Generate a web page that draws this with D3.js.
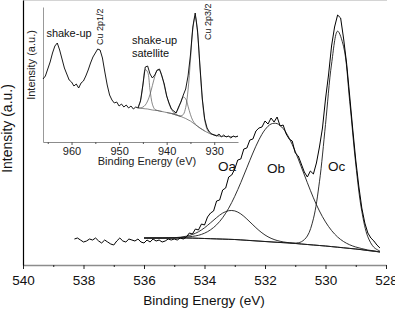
<!DOCTYPE html>
<html>
<head>
<meta charset="utf-8">
<script src="https://cdn.jsdelivr.net/npm/d3@7"></script>
<style>
  html, body { margin: 0; padding: 0; background: #fff; }
  svg { display: block; }
</style>
</head>
<body>
<div id="chart"></div>
<script>
const FONT = "'Liberation Sans', Arial, sans-serif";

// ---- main panel: O 1s ----
// measured spectrum, every 0.1 eV from 538.3 down to 528.2
const mainRawStart = 538.3;
const mainRawStep = 0.1;
const mainRaw = [
	26, 27, 25, 23, 24, 26, 25, 27, 24, 22, 25, 23, 21, 20, 24, 27, 24, 23, 26, 25,
	24, 26, 23, 22, 25, 23, 26, 24, 25, 23, 24, 26, 25, 26, 25, 27, 26,
	28, 32, 31, 36, 35, 41, 40, 48, 52, 54, 64, 65, 75, 77, 88, 90, 96, 105, 106, 116,
	117, 125, 126, 134, 137, 138, 144, 141, 147, 143, 148, 139, 140, 131, 126, 124,
	112, 109, 101, 93, 88, 94, 91, 102, 118, 137, 166, 190, 219, 238, 250, 247, 226,
	201, 169, 136, 105, 79, 57, 42, 32, 27, 24, 20, 17,
];

// fitted curves (baseline included), every 0.2 eV from 536.0 down to 528.2
const mainFitStart = 536.0;
const mainFitStep = 0.2;
const mainBaseline = [
	27, 27, 27, 27, 27, 27, 27, 27, 26.9, 26.7, 26.5, 26.3, 26.1, 25.9, 25.7, 25.5,
	25.1, 24.7, 24.3, 23.9, 23.5, 23.1, 22.7, 22.3, 21.9, 21.5, 21.0, 20.5, 20.0,
	19.5, 19.0, 18.4, 17.8, 17.2, 16.6, 16.0, 15.3, 14.5, 13.8, 13.0,
];
const peakOa = [
	27.0, 27.0, 27.0, 27.0, 27.1, 27.3, 27.8,
	28.8, 30.5, 33.2, 37.2, 42.2, 47.4, 51.9, 54.3, 54.1, 51.1, 46.0, 40.2, 34.6,
	30.0, 26.7, 24.5, 23.1, 22.2, 21.6, 21.0, 20.5, 20.0, 19.5, 19.0, 18.4, 17.8,
	17.2, 16.6, 16.0, 15.3, 14.5, 13.8, 13.0,
];
const peakOb = [
	27.0, 27.0, 27.0, 27.0, 27.1, 27.2, 27.4,
	27.9, 28.6, 29.7, 31.8, 35.2, 40.2, 47.3, 56.8, 68.7, 82.4, 97.2, 112.0, 125.2,
	135.3, 141.0, 141.4, 136.4, 126.8, 113.5, 98.1, 82.3, 67.2, 54.0, 43.1, 34.5,
	28.0, 23.4, 20.2, 18.0, 16.4, 15.0, 14.1, 13.1,
];
const peakOc = [
	27, 27, 27, 27, 27, 27, 27,
	27, 26.9, 26.7, 26.5, 26.3, 26.1, 25.9, 25.7, 25.5, 25.1, 24.7, 24.3, 23.9,
	23.5, 23.1, 22.7, 22.4, 22.2, 21.9, 23.2, 29.0, 46.2, 83.2, 140.5, 201.0, 233.8,
	218.2, 163.8, 100.9, 53.8, 28.2, 17.7, 13.9,
];

const mainTicks = [540, 538, 536, 534, 532, 530, 528];
const mainMinorTicks = [539, 537, 535, 533, 531, 529];
const peakNames = ["Oa", "Ob", "Oc"];
const peakLabelEv = [533.55, 531.93, 529.92];
const peakLabelY = [94, 92, 94];

// ---- inset: Cu 2p ----
// measured spectrum, every 0.5 eV from 966 down to 925
const insetRawStart = 966;
const insetStep = 0.5;
const insetRaw = [
	63, 66, 73, 80, 89, 96, 99, 92, 83, 74,
	68, 62, 60, 56, 58, 54, 59, 61, 66, 72,
	79, 85, 89, 93, 92, 84, 70, 57, 47, 42,
	39, 40, 36, 38, 35, 37, 34, 36, 33, 35,
	34, 41, 57, 75, 76, 68, 64, 67, 72, 73,
	66, 58, 46, 39, 33, 31, 29, 35, 40, 47,
	53, 66, 87, 115, 129, 111, 76, 43, 23, 14,
	10, 8, 7, 6, 8, 5, 7, 5, 6, 4,
	6, 5, 6,
];

// fitted curves (baseline included), every 0.5 eV, each from its own start
const insetBaselineStart = 946;
const insetBaseline = [
	34, 33.7, 33.5, 33.2, 33, 32.5, 32, 31.7, 31.5, 31, 30.5, 30, 29.5, 29, 28.5,
	27.7, 27, 26.2, 25.5, 24.5, 23.5, 22.2, 21, 19.2, 17.5, 15.7, 14, 12.5, 11,
	9.7, 8.5, 7.7, 7, 6.5, 6, 5.7, 5.5, 5.5, 5.5, 5.5, 5.5, 5.5, 5.5,
];
const satOneStart = 946;
const satOne = [35.5, 41.5, 56.8, 72.4, 69.9, 52.1, 37.8, 32.7, 31.6, 31.0, 30.5];
const satTwoStart = 946;
const satTwo = [
	34.1, 34.2, 34.9, 36.9, 41.0, 47.6, 56.4, 65.4, 71.4, 71.5, 65.8, 56.3, 46.3,
	38.2, 32.8, 29.4, 27.6, 26.4, 25.5,
];
const shoulderStart = 940;
const shoulder = [
	29.5, 29, 28.6, 28.4, 29.8, 33.9, 40.5, 44.9, 43.2, 35.7, 27.5, 21.4, 18.0,
	15.8, 14, 12.5, 11,
];
const mainLineStart = 939;
const mainLine = [
	28.5, 27.7, 27.0, 26.3, 26.1, 27.5, 34.4, 52.0, 81.9, 112.8, 125.5, 109.3, 74.9,
	42.3, 21.9, 12.7, 9.1, 7.8, 7.0, 6.5, 6.0,
];

const insetTicks = [960, 950, 940, 930];
const insetMinorTicks = [965, 955, 945, 935];

// ---------------------------------------------------------
const width = 395;
const height = 309;

const svg = d3
	.select("#chart")
	.append("svg")
	.attr("width", width)
	.attr("height", height)
	.attr("font-family", FONT);

svg.append("rect").attr("width", width).attr("height", height).attr("fill", "#fff");

const toPoints = (start, step, values) => values.map((v, i) => [start - i * step, v]);

// main scales
const x = d3.scaleLinear().domain([540, 528]).range([23, 386]);
const y = d3.scaleLinear().domain([0, 265]).range([265, 0]);

const mainLineGen = d3.line().x((d) => x(d[0])).y((d) => y(d[1]));
const mainSmooth = d3.line().x((d) => x(d[0])).y((d) => y(d[1])).curve(d3.curveCatmullRom);

// faint top frame line
svg
	.append("line")
	.attr("x1", 23)
	.attr("x2", 387)
	.attr("y1", 0.5)
	.attr("y2", 0.5)
	.attr("stroke", "#d4d4d4");

// bottom axis
const gx = svg.append("g").attr("transform", `translate(0,${y(0)})`);
gx.call(
	d3.axisBottom(x).tickValues(mainTicks).tickSize(4).tickSizeOuter(0).tickPadding(6).tickFormat(d3.format("d"))
);
gx.attr("font-family", FONT).attr("font-size", 13.5);
gx.select(".domain").attr("stroke", "#8c8c8c").attr("stroke-width", 1.6);
gx.selectAll(".tick line").attr("stroke", "#222");
gx.selectAll(".tick text").attr("fill", "#111");

const gxMinor = svg.append("g").attr("transform", `translate(0,${y(0)})`);
gxMinor.call(d3.axisBottom(x).tickValues(mainMinorTicks).tickSize(2).tickFormat(""));
gxMinor.select(".domain").remove();
gxMinor.selectAll(".tick line").attr("stroke", "#222");

// left axis (line only)
const gy = svg.append("g").attr("transform", `translate(${x(540)},0)`);
gy.call(d3.axisLeft(y).tickValues([]).tickSizeOuter(0));
gy.select(".domain").attr("stroke", "#000").attr("stroke-width", 1.2);

// axis titles
svg
	.append("text")
	.attr("x", 204)
	.attr("y", 305)
	.attr("text-anchor", "middle")
	.attr("font-size", 13.6)
	.attr("fill", "#111")
	.text("Binding Energy (eV)");

svg
	.append("text")
	.attr("transform", "translate(12,128.5) rotate(-90)")
	.attr("text-anchor", "middle")
	.attr("font-size", 14)
	.attr("fill", "#111")
	.text("Intensity (a.u.)");

// fitted curves
const fitLayer = svg.append("g").attr("fill", "none").attr("stroke", "#1a1a1a").attr("stroke-width", 0.9);
[mainBaseline, peakOa, peakOb, peakOc].forEach((series) => {
	fitLayer.append("path").attr("d", mainSmooth(toPoints(mainFitStart, mainFitStep, series)));
});

// measured spectrum
svg
	.append("path")
	.attr("d", mainLineGen(toPoints(mainRawStart, mainRawStep, mainRaw)))
	.attr("fill", "none")
	.attr("stroke", "#000")
	.attr("stroke-width", 1);

// peak names
peakNames.forEach((name, i) => {
	svg
		.append("text")
		.attr("x", x(peakLabelEv[i]))
		.attr("y", y(peakLabelY[i]))
		.attr("font-size", 13.5)
		.attr("fill", "#111")
		.text(name);
});

// ---- inset ----
const xi = d3.scaleLinear().domain([966, 925]).range([43, 238]);
const yi = d3.scaleLinear().domain([0, 135]).range([142, 7]);

const insetLine = d3.line().x((d) => xi(d[0])).y((d) => yi(d[1]));
const insetSmooth = d3.line().x((d) => xi(d[0])).y((d) => yi(d[1])).curve(d3.curveCatmullRom);

const gxi = svg.append("g").attr("transform", `translate(0,${yi(0)})`);
gxi.call(
	d3.axisBottom(xi).tickValues(insetTicks).tickSize(3).tickSizeOuter(0).tickPadding(2).tickFormat(d3.format("d"))
);
gxi.attr("font-family", FONT).attr("font-size", 11);
gxi.select(".domain").attr("stroke", "#8c8c8c");
gxi.selectAll(".tick line").attr("stroke", "#555");
gxi.selectAll(".tick text").attr("fill", "#222");

const gxiMinor = svg.append("g").attr("transform", `translate(0,${yi(0)})`);
gxiMinor.call(d3.axisBottom(xi).tickValues(insetMinorTicks).tickSize(2).tickFormat(""));
gxiMinor.select(".domain").remove();
gxiMinor.selectAll(".tick line").attr("stroke", "#555");

const gyi = svg.append("g").attr("transform", `translate(${xi(966)},0)`);
gyi.call(d3.axisLeft(yi).tickValues([]).tickSizeOuter(0));
gyi.select(".domain").attr("stroke", "#999");

svg
	.append("text")
	.attr("x", 147)
	.attr("y", 165)
	.attr("text-anchor", "middle")
	.attr("font-size", 11)
	.attr("fill", "#222")
	.text("Binding Energy (eV)");

svg
	.append("text")
	.attr("transform", "translate(35,65) rotate(-90)")
	.attr("text-anchor", "middle")
	.attr("font-size", 11)
	.attr("fill", "#222")
	.text("Intensity (a.u.)");

const insetFit = svg.append("g").attr("fill", "none").attr("stroke", "#555").attr("stroke-width", 0.7);
[
	[insetBaselineStart, insetBaseline],
	[satOneStart, satOne],
	[satTwoStart, satTwo],
	[shoulderStart, shoulder],
	[mainLineStart, mainLine],
].forEach(([start, series]) => {
	insetFit.append("path").attr("d", insetSmooth(toPoints(start, insetStep, series)));
});

svg
	.append("path")
	.attr("d", insetLine(toPoints(insetRawStart, insetStep, insetRaw)))
	.attr("fill", "none")
	.attr("stroke", "#000")
	.attr("stroke-width", 0.9);

// inset annotations
svg
	.append("text")
	.attr("x", xi(960.53))
	.attr("y", yi(105.5))
	.attr("text-anchor", "middle")
	.attr("font-size", 11)
	.attr("fill", "#111")
	.text("shake-up");

svg
	.append("text")
	.attr("x", xi(947.3))
	.attr("y", yi(98))
	.attr("font-size", 11)
	.attr("fill", "#111")
	.text("shake-up");

svg
	.append("text")
	.attr("x", xi(947.3))
	.attr("y", yi(85))
	.attr("font-size", 11)
	.attr("fill", "#111")
	.text("satellite");

svg
	.append("text")
	.attr("transform", `translate(${xi(953.4)},${yi(97)}) rotate(-90)`)
	.attr("font-size", 9)
	.attr("fill", "#111")
	.text("Cu 2p1/2");

svg
	.append("text")
	.attr("transform", `translate(${xi(930.6)},${yi(102)}) rotate(-90)`)
	.attr("font-size", 9)
	.attr("fill", "#111")
	.text("Cu 2p3/2");
</script>
</body>
</html>
